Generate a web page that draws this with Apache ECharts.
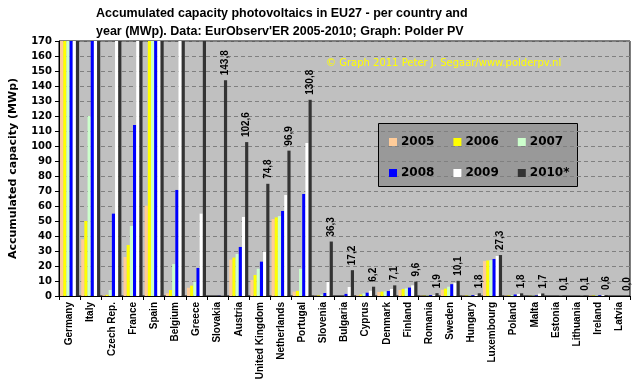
<!DOCTYPE html>
<html>
<head>
<meta charset="utf-8">
<script src="https://cdn.jsdelivr.net/npm/echarts@6/dist/echarts.min.js"></script>
<style>html,body{margin:0;padding:0;background:#fff}#c{width:641px;height:391px}</style>
</head>
<body>
<div id="c"></div>
<script>
var countries = ['Germany','Italy','Czech Rep.','France','Spain','Belgium','Greece','Slovakia','Austria','United Kingdom','Netherlands','Portugal','Slovenia','Bulgaria','Cyprus','Denmark','Finland','Romania','Sweden','Hungary','Luxembourg','Poland','Malta','Estonia','Lithuania','Ireland','Latvia'];
var years = ['2005','2006','2007','2008','2009','2010*'];
var y2005 = [1910, 37.8, 0.5, 26, 60.2, 1.8, 5.5, 0.0, 24.2, 10.7, 51.3, 2.9, 0.2, 0.0, 0.5, 2.7, 4.0, 0.2, 4.2, 0.2, 23.3, 0.3, 0.0, 0.0, 0.0, 0.3, 0.0];
var y2006 = [2863, 50, 0.8, 34, 175, 4.0, 6.9, 0.0, 25.6, 14, 52.4, 3.4, 0.4, 0.0, 1.0, 2.9, 4.7, 0.2, 4.9, 0.3, 23.7, 0.4, 0.1, 0.0, 0.0, 0.3, 0.0];
var y2007 = [3846, 120, 4.0, 46.7, 705, 21.3, 9.6, 0.0, 28, 18.2, 53.3, 18.2, 1.0, 0.0, 1.7, 3.1, 5.1, 0.3, 6.2, 0.4, 23.9, 0.6, 0.2, 0.0, 0.0, 0.4, 0.0];
var y2008 = [5979, 458, 54.9, 114, 3421, 70.7, 18.7, 0.1, 32.7, 22.9, 56.7, 68, 2.0, 1.4, 2.2, 3.3, 5.6, 0.5, 7.9, 0.5, 24.7, 1.0, 0.3, 0.0, 0.0, 0.4, 0.0];
var y2009 = [9785, 1181, 466, 370, 3520, 574, 54.9, 0.2, 52.7, 29.6, 67.3, 102, 9.3, 6.0, 3.5, 4.7, 7.1, 0.6, 8.8, 0.7, 26.7, 1.4, 1.6, 0.1, 0.1, 0.6, 0.0];
var y2010 = [17370, 3478, 1953, 1025, 3892, 787, 205, 143.8, 102.6, 74.8, 96.9, 130.8, 36.3, 17.2, 6.2, 7.1, 9.6, 1.9, 10.1, 1.8, 27.3, 1.8, 1.7, 0.1, 0.1, 0.6, 0.0];
var colors = ['#FFCC99','#FFFF00','#CCFFCC','#0000FF','#FFFFFF','#333333'];
var yMax = 170;

var allData = [y2005, y2006, y2007, y2008, y2009, y2010];
var series = allData.map(function (d, i) {
  var s = {
    name: years[i], type: 'bar', data: d, clip: true,
    barGap: '0%', barCategoryGap: '10%',
    itemStyle: { color: colors[i] },
    emphasis: { disabled: true }, animation: false
  };
  if (i === 5) {
    s.label = {
      show: true, position: 'top', rotate: 90, align: 'left', verticalAlign: 'middle',
      distance: 5, color: '#000', fontFamily: 'Liberation Sans', fontWeight: 'bold', fontSize: 10,
      formatter: function (p) { return p.value > yMax ? '' : p.value.toFixed(1).replace('.', ','); }
    };
  }
  return s;
});

var chart = echarts.init(document.getElementById('c'), null, { renderer: 'canvas' });
chart.setOption({
  backgroundColor: '#fff',
  animation: false,
  title: {
    text: 'Accumulated capacity photovoltaics in EU27 - per country and\nyear (MWp). Data: EurObserv\'ER 2005-2010; Graph: Polder PV',
    left: 91, top: 0,
    textStyle: { fontFamily: 'Liberation Sans', fontWeight: 'bold', fontSize: 12.5, color: '#000', lineHeight: 18 }
  },
  grid: { left: 53, right: 11, top: 41, bottom: 95, show: true, backgroundColor: '#C0C0C0', borderColor: '#000', borderWidth: 1 },
  legend: [
    { data: years.slice(0, 3), left: 384, top: 131, itemWidth: 8, itemHeight: 8, itemGap: 19, icon: 'rect',
      textStyle: { fontFamily: 'DejaVu Sans', fontWeight: 'bold', fontSize: 12, color: '#000', padding: [0,0,0,-1] } },
    { data: years.slice(3), left: 384, top: 162, itemWidth: 8, itemHeight: 8, itemGap: 19, icon: 'rect',
      textStyle: { fontFamily: 'DejaVu Sans', fontWeight: 'bold', fontSize: 12, color: '#000', padding: [0,0,0,-1] } }
  ],
  graphic: [
    { type: 'rect', left: 378, top: 123, z: 0, silent: true,
      shape: { width: 199, height: 63 }, style: { fill: '#999999', stroke: '#000', lineWidth: 1 } },
    { type: 'text', left: 326, top: 58, z: 10, silent: true,
      style: { text: '\u00A9 Graph 2011 Peter J. Segaar/www.polderpv.nl', fill: '#FFFF00', font: '10px "DejaVu Sans"' } }
  ],
  xAxis: {
    type: 'category', data: countries,
    axisLine: { lineStyle: { color: '#000', width: 1 } },
    axisTick: { show: true, length: 4, lineStyle: { color: '#000' } },
    axisLabel: { interval: 0, rotate: 90, margin: 6, color: '#000', fontFamily: 'Liberation Sans', fontWeight: 'bold', fontSize: 10 }
  },
  yAxis: {
    type: 'value', min: 0, max: yMax, interval: 10,
    name: 'Accumulated capacity (MWp)', nameLocation: 'middle', nameGap: 40,
    nameTextStyle: { fontFamily: 'DejaVu Sans', fontWeight: 'bold', fontSize: 11, color: '#000' },
    axisLine: { show: true, lineStyle: { color: '#000', width: 1 } },
    axisTick: { show: true, length: 4, lineStyle: { color: '#000' } },
    axisLabel: { margin: 7, color: '#000', fontFamily: 'DejaVu Sans', fontWeight: 'bold', fontSize: 10 },
    splitLine: { show: true, lineStyle: { color: '#808080', type: [4, 3], width: 1 } }
  },
  series: series
});
</script>
</body>
</html>
